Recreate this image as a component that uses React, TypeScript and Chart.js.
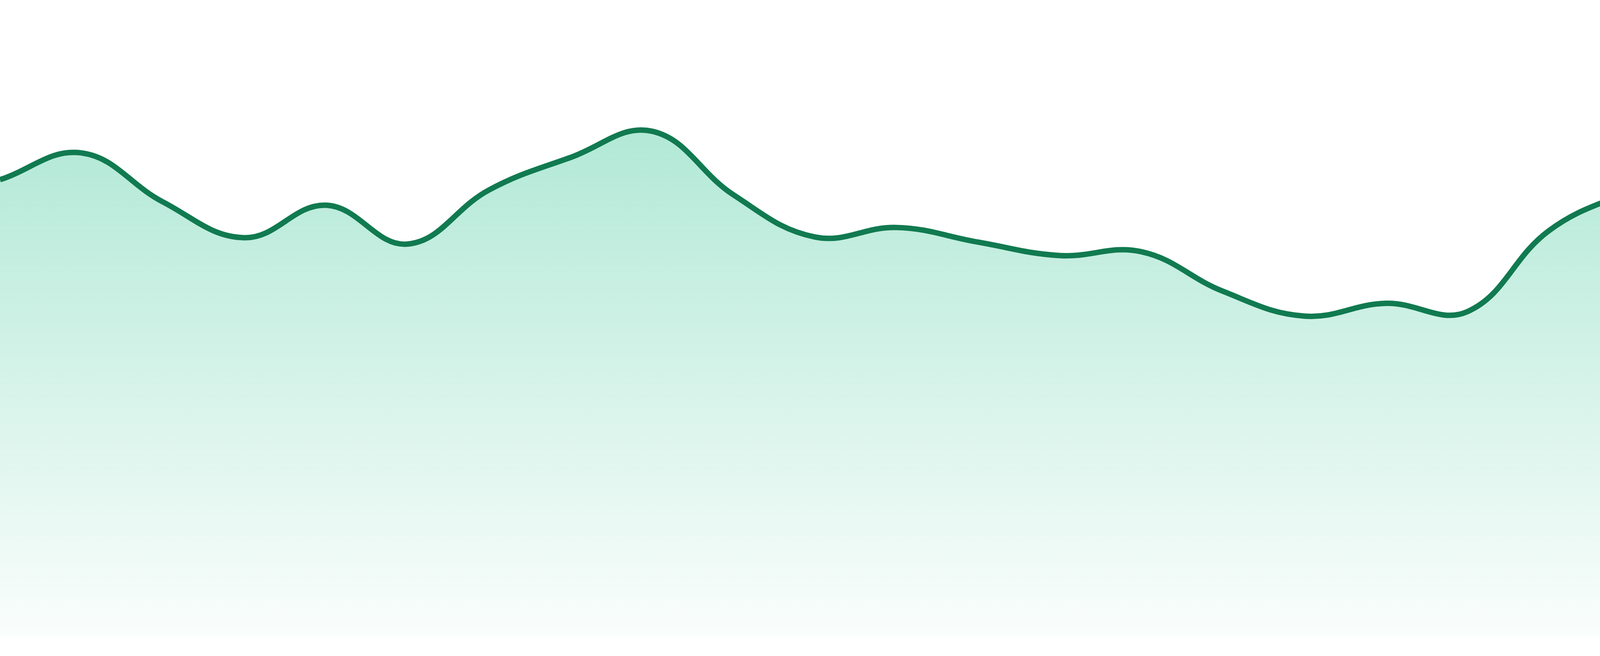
import React, { useEffect, useRef } from "react";
import { Chart, registerables } from "chart.js";

Chart.register(...registerables);

const labels = [
  "1", "2", "3", "4", "5", "6", "7", "8", "9", "10", "11", "12",
  "13", "14", "15", "16", "17", "18", "19", "20", "21", "22", "23", "24",
];

const values = [
  71.8, 76.0, 68.3, 62.7, 67.8, 61.7, 70.2, 75.3, 79.4, 69.4, 62.8, 64.3,
  62.0, 59.9, 60.5, 54.3, 50.4, 52.4, 51.1, 63.8, 70.0, 74.9, 84.1, 87.7,
];

const yMin = 0;
const yMax = 100;

const lineColor = "#117a50";

export default function App() {
  const canvasRef = useRef<HTMLCanvasElement | null>(null);

  useEffect(() => {
    document.body.style.margin = "0";
    const canvas = canvasRef.current;
    if (!canvas) return;
    const chart = new Chart(canvas, {
      type: "line",
      data: {
        labels,
        datasets: [
          {
            data: values,
            borderColor: lineColor,
            borderWidth: 14,
            pointRadius: 0,
            pointHoverRadius: 0,
            tension: 0.4,
            fill: "start",
            backgroundColor: (ctx: any) => {
              const { chart } = ctx;
              const area = chart.chartArea;
              if (!area) return "rgba(16,185,129,0.25)";
              const g = chart.ctx.createLinearGradient(0, area.top, 0, area.bottom);
              g.addColorStop(0, "rgba(16,185,129,0.40)");
              g.addColorStop(1, "rgba(16,185,129,0.02)");
              return g;
            },
          },
        ],
      },
      options: {
        animation: false,
        responsive: true,
        maintainAspectRatio: false,
        layout: { padding: { top: 0, bottom: 48, left: 0, right: 0 } },
        plugins: {
          legend: { display: false },
          tooltip: { enabled: false },
        },
        scales: {
          x: { display: false, offset: false },
          y: { display: false, min: yMin, max: yMax },
        },
      },
    });
    return () => chart.destroy();
  }, []);

  return (
    <div
      style={{
        position: "fixed",
        left: 0,
        top: 0,
        width: "4800px",
        height: "1680px",
        background: "#ffffff",
      }}
    >
      <canvas ref={canvasRef} />
    </div>
  );
}
